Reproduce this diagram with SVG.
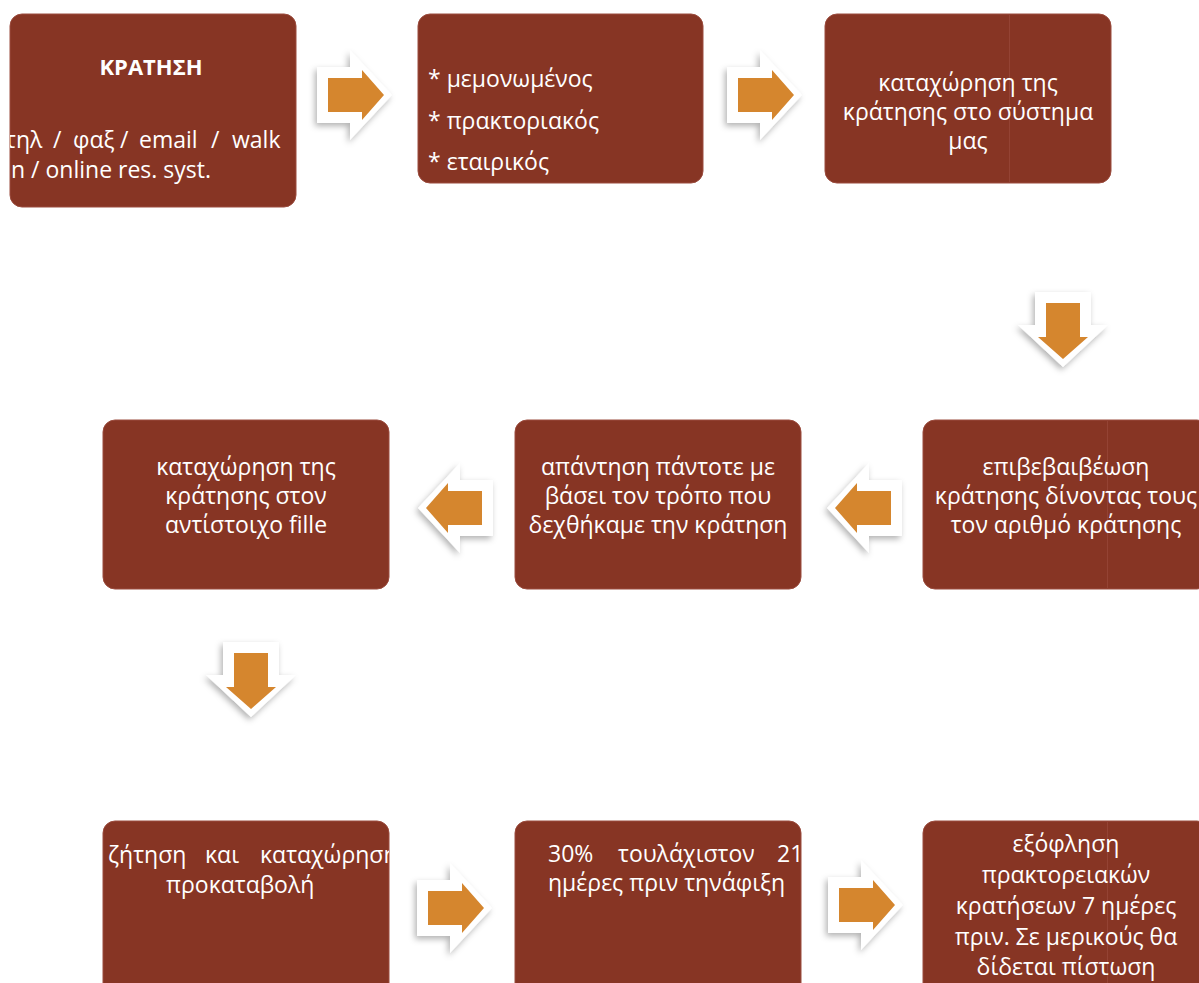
<svg xmlns="http://www.w3.org/2000/svg" width="1199" height="983" viewBox="0 0 1199 983">
  <style>
    .box { fill: #873524; stroke: #9b4c3e; stroke-width: 1; }
    .seam { stroke: #9a4a3c; stroke-width: 1; opacity: 0.7; }
    .t { font-family: "Open Sans", "Liberation Sans", sans-serif; font-size: 23px; fill: #ffffff; }
    .c { text-anchor: middle; }
    .b { font-weight: bold; font-size: 22px; }
    .outer { fill: #ffffff; }
    .inner { fill: #d5862f; }
  </style>
  <defs>
    <filter id="shadow" x="-30%" y="-30%" width="160%" height="160%">
      <feDropShadow dx="-2" dy="3" stdDeviation="3" flood-color="#000000" flood-opacity="0.3"/>
    </filter>
    <!-- block arrow pointing right, origin at the tail centre -->
    <g id="arrow">
      <path class="outer" d="M0,-28 H33 V-45 L75,0 L33,45 V28 H0 Z"/>
      <path class="inner" d="M11,-17 H45 V-25 L67,0 L45,25 V17 H11 Z"/>
    </g>
    <clipPath id="clip1"><rect x="10" y="14" width="286" height="193" rx="12"/></clipPath>
    <clipPath id="clip7"><rect x="103" y="821" width="286" height="200" rx="12"/></clipPath>
    <clipPath id="clip8"><rect x="515" y="821" width="286" height="200" rx="12"/></clipPath>
  </defs>

  <rect width="1199" height="983" fill="#ffffff"/>

  <!-- connectors -->
  <g id="connectors">
    <g filter="url(#shadow)"><use href="#arrow" transform="translate(317,95)"/></g>
    <g filter="url(#shadow)"><use href="#arrow" transform="translate(727,95)"/></g>
    <g filter="url(#shadow)"><use href="#arrow" transform="translate(1063,292) rotate(90)"/></g>
    <g filter="url(#shadow)"><use href="#arrow" transform="translate(902,508) rotate(180)"/></g>
    <g filter="url(#shadow)"><use href="#arrow" transform="translate(493,508) rotate(180)"/></g>
    <g filter="url(#shadow)"><use href="#arrow" transform="translate(251,642) rotate(90)"/></g>
    <g filter="url(#shadow)"><use href="#arrow" transform="translate(417,908)"/></g>
    <g filter="url(#shadow)"><use href="#arrow" transform="translate(828,905)"/></g>
  </g>

  <!-- row 1 -->
  <g id="node-booking">
    <rect class="box" x="10" y="14" width="286" height="193" rx="12"/>
    <text class="t b c" x="151" y="75">ΚΡΑΤΗΣΗ</text>
    <g clip-path="url(#clip1)">
      <text class="t" x="5" y="148">τηλ</text>
      <text class="t" x="53" y="148">/</text>
      <text class="t" x="73" y="148">φαξ</text>
      <text class="t" x="120" y="148">/</text>
      <text class="t" x="139" y="148">email</text>
      <text class="t" x="211" y="148">/</text>
      <text class="t" x="232" y="148">walk</text>
      <text class="t" x="11" y="178">n / online res. syst.</text>
    </g>
  </g>

  <g id="node-client-type">
    <rect class="box" x="418" y="14" width="285" height="169" rx="12"/>
    <text class="t" x="428" y="87">* μεμονωμένος</text>
    <text class="t" x="428" y="129">* πρακτοριακός</text>
    <text class="t" x="428" y="170">* εταιρικός</text>
  </g>

  <g id="node-register-system">
    <rect class="box" x="825" y="14" width="286" height="169" rx="12"/>
    <line class="seam" x1="1009.5" y1="15" x2="1009.5" y2="182"/>
    <text class="t c" x="968" y="91">καταχώρηση της</text>
    <text class="t c" x="968" y="120">κράτησης στο σύστημα</text>
    <text class="t c" x="968" y="149">μας</text>
  </g>

  <!-- row 2 -->
  <g id="node-confirm">
    <rect class="box" x="923" y="420" width="286" height="169" rx="12"/>
    <line class="seam" x1="1107.5" y1="421" x2="1107.5" y2="588"/>
    <text class="t c" x="1066" y="475">επιβεβαιβέωση</text>
    <text class="t c" x="1066" y="504">κράτησης δίνοντας τους</text>
    <text class="t c" x="1066" y="533">τον αριθμό κράτησης</text>
  </g>

  <g id="node-reply">
    <rect class="box" x="515" y="420" width="286" height="169" rx="12"/>
    <text class="t c" x="658" y="475">απάντηση πάντοτε με</text>
    <text class="t c" x="658" y="504">βάσει τον τρόπο που</text>
    <text class="t c" x="658" y="533">δεχθήκαμε την κράτηση</text>
  </g>

  <g id="node-register-file">
    <rect class="box" x="103" y="420" width="286" height="169" rx="12"/>
    <text class="t c" x="246" y="475">καταχώρηση της</text>
    <text class="t c" x="246" y="504">κράτησης στον</text>
    <text class="t c" x="246" y="533">αντίστοιχο fille</text>
  </g>

  <!-- row 3 -->
  <g id="node-deposit">
    <rect class="box" x="103" y="821" width="286" height="200" rx="12"/>
    <g clip-path="url(#clip7)">
      <text class="t" x="108" y="863">ζήτηση</text>
      <text class="t" x="205" y="863">και</text>
      <text class="t" x="260" y="863">καταχώρηση</text>
    </g>
    <text class="t" x="166" y="893">προκαταβολή</text>
  </g>

  <g id="node-advance">
    <rect class="box" x="515" y="821" width="286" height="200" rx="12"/>
    <g clip-path="url(#clip8)">
      <text class="t" x="548" y="862">30%</text>
      <text class="t" x="618" y="862">τουλάχιστον</text>
      <text class="t" x="777" y="862">21</text>
    </g>
    <text class="t" x="548" y="891">ημέρες πριν τηνάφιξη</text>
  </g>

  <g id="node-settlement">
    <rect class="box" x="923" y="821" width="286" height="200" rx="12"/>
    <line class="seam" x1="1107.5" y1="822" x2="1107.5" y2="983"/>
    <text class="t c" x="1066" y="852">εξόφληση</text>
    <text class="t c" x="1066" y="883">πρακτορειακών</text>
    <text class="t c" x="1066" y="914">κρατήσεων 7 ημέρες</text>
    <text class="t c" x="1066" y="945">πριν. Σε μερικούς θα</text>
    <text class="t c" x="1066" y="975">δίδεται πίστωση</text>
  </g>
</svg>
